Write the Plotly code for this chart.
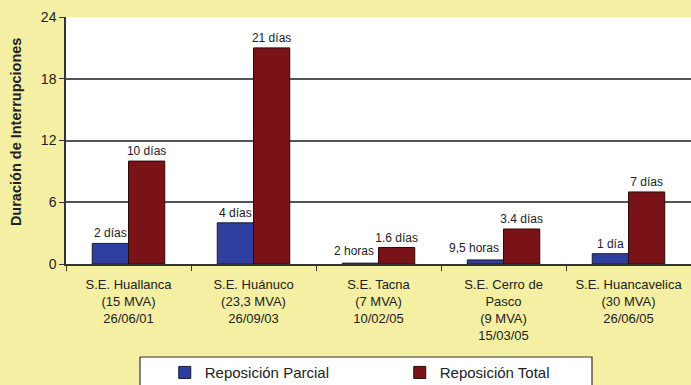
import plotly.graph_objects as go

categories = [
    "S.E. Huallanca<br>(15 MVA)<br>26/06/01",
    "S.E. Huánuco<br>(23,3 MVA)<br>26/09/03",
    "S.E. Tacna<br>(7 MVA)<br>10/02/05",
    "S.E. Cerro de<br>Pasco<br>(9 MVA)<br>15/03/05",
    "S.E. Huancavelica<br>(30 MVA)<br>26/06/05",
]
# durations in days
parcial = [2, 4, 2 / 24, 9.5 / 24, 1]
total = [10, 21, 1.6, 3.4, 7]
parcial_labels = ["2 días", "4 días", "2 horas", "9,5 horas", "1 día"]
total_labels = ["10 días", "21 días", "1.6 días", "3.4 días", "7 días"]
y_ticks = [0, 6, 12, 18, 24]
y_title = "Duración de Interrupciones"

# short outages (hours) get their labels beside the bar instead of above it
short = [i for i, lab in enumerate(parcial_labels) if "horas" in lab]

FONT = "Liberation Sans, Arial"
label_font = dict(family=FONT, size=12, color="#222222")

fig = go.Figure()
fig.add_trace(go.Bar(
    x=categories, y=parcial, name="Reposición Parcial",
    marker=dict(color="#2F3F9F", line=dict(color="#1a1a2a", width=1)),
    text=["" if i in short else lab for i, lab in enumerate(parcial_labels)],
    textposition="outside", textfont=label_font,
    constraintext="none", cliponaxis=False,
))
fig.add_trace(go.Bar(
    x=categories, y=total, name="Reposición Total",
    marker=dict(color="#7A1318", line=dict(color="#2a0a0a", width=1)),
    text=total_labels, textposition="outside", textfont=label_font,
    constraintext="none", cliponaxis=False,
))

for i in short:
    fig.add_annotation(
        x=categories[i], y=parcial[i], text=parcial_labels[i],
        xref="x", yref="y", xanchor="right", yanchor="bottom",
        xshift=-3, yshift=3, showarrow=False, font=label_font,
    )

# vertical axis title
fig.add_annotation(
    x=-0.08, y=0.534, xref="paper", yref="paper", textangle=-90,
    xanchor="center", yanchor="middle",
    text=f"<b>{y_title}</b>", showarrow=False,
    font=dict(family=FONT, size=14.5, color="#222222"),
)

# legend frame
fig.add_shape(
    type="rect", xref="paper", yref="paper",
    x0=0.1184, x1=0.8416, y0=-0.53, y1=-0.3765,
    fillcolor="#FFFFFF", line=dict(color="#333333", width=1.2), layer="below",
)

fig.update_layout(
    width=691, height=385,
    margin=dict(l=66, r=0, t=17, b=121, autoexpand=False),
    paper_bgcolor="#F4EFA3",
    plot_bgcolor="#FFFFFF",
    barmode="group",
    bargap=0.42,
    bargroupgap=0,
    font=dict(family=FONT, color="#222222"),
    showlegend=True,
    legend=dict(
        orientation="h", x=0.158, xanchor="left", y=-0.44, yanchor="middle",
        bgcolor="rgba(0,0,0,0)", borderwidth=0,
        font=dict(family=FONT, size=15, color="#222222"),
        entrywidth=190, entrywidthmode="pixels",
    ),
)
fig.update_xaxes(
    type="category",
    tickson="boundaries", ticks="outside", ticklen=5, tickcolor="#333333",
    showline=True, linecolor="#333333", linewidth=1.5,
    tickfont=dict(family=FONT, size=13, color="#222222"),
    ticklabelstandoff=8,
    showgrid=False,
)
fig.update_yaxes(
    range=[0, 24], tickvals=y_ticks,
    ticks="outside", ticklen=5, tickcolor="#333333",
    showline=True, linecolor="#333333", linewidth=1.5,
    showgrid=True, gridcolor="#555555", gridwidth=1.5,
    tickfont=dict(family=FONT, size=14, color="#222222"),
)

fig.write_html("out.html")
